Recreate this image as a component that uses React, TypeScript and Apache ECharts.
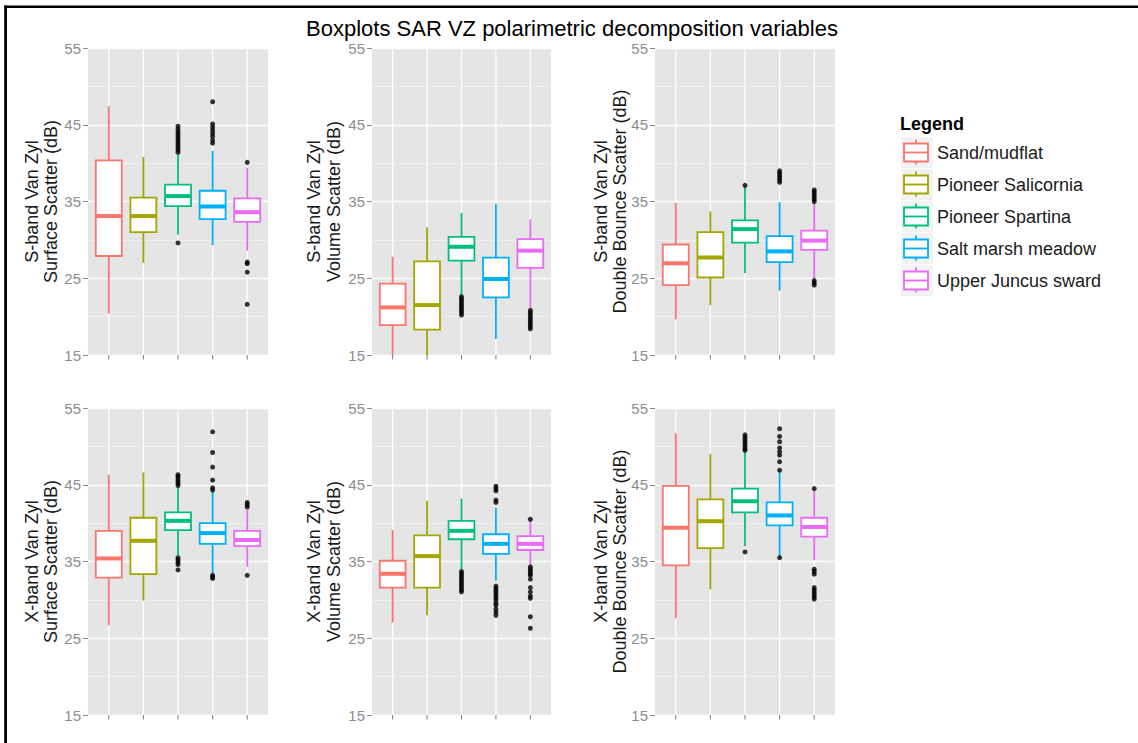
import React, { useEffect, useRef } from "react";
import * as echarts from "echarts";

// Vegetation / surface classes and their colours
const groups = [
  "Sand/mudflat",
  "Pioneer Salicornia",
  "Pioneer Spartina",
  "Salt marsh meadow",
  "Upper Juncus sward",
];
const groupColors = ["#F8766D", "#A3A500", "#00BF7D", "#00B0F6", "#E76BF3"];

const yTicks = [15, 25, 35, 45, 55];
const chartTitle = "Boxplots SAR VZ polarimetric decomposition variables";

const panelTitles = [
  "S-band Van Zyl\nSurface Scatter (dB)",
  "S-band Van Zyl\nVolume Scatter (dB)",
  "S-band Van Zyl\nDouble Bounce Scatter (dB)",
  "X-band Van Zyl\nSurface Scatter (dB)",
  "X-band Van Zyl\nVolume Scatter (dB)",
  "X-band Van Zyl\nDouble Bounce Scatter (dB)",
];

// Box statistics per class: [lower whisker, Q1, median, Q3, upper whisker]
const sSurfaceStats = [
  [20.4, 27.9, 33.1, 40.35, 47.4],
  [27.0, 31.0, 33.1, 35.5, 40.8],
  [30.7, 34.4, 35.7, 37.2, 41.1],
  [29.3, 32.7, 34.35, 36.4, 41.6],
  [28.6, 32.35, 33.6, 35.4, 39.4],
];
const sSurfaceOutliers = [
  [],
  [],
  [41.4, 41.7, 42.0, 42.3, 42.6, 42.9, 43.2, 43.5, 43.8, 44.1, 44.4, 44.8, 29.6],
  [48.0, 45.1, 44.7, 44.3, 43.9, 43.5, 43.0, 42.6],
  [40.1, 27.1, 26.9, 25.8, 21.6],
];

const sVolumeStats = [
  [15.0, 18.9, 21.2, 24.3, 27.8],
  [15.0, 18.3, 21.5, 27.2, 31.65],
  [22.8, 27.3, 29.1, 30.4, 33.5],
  [17.1, 22.5, 24.9, 27.7, 34.7],
  [21.0, 26.35, 28.6, 30.1, 32.7],
];
const sVolumeOutliers = [
  [],
  [],
  [22.6, 22.3, 22.0, 21.7, 21.4, 21.1, 20.8, 20.5, 20.2],
  [],
  [20.8, 20.5, 20.2, 19.9, 19.6, 19.3, 19.0, 18.7, 18.4],
];

const sDoubleStats = [
  [19.65, 24.1, 26.95, 29.4, 34.8],
  [21.5, 25.1, 27.7, 31.0, 33.7],
  [25.7, 29.65, 31.4, 32.55, 37.0],
  [23.4, 27.1, 28.5, 30.5, 34.9],
  [24.9, 28.7, 29.9, 31.2, 34.8],
];
const sDoubleOutliers = [
  [],
  [],
  [37.1],
  [37.5, 37.8, 38.1, 38.4, 38.7, 39.0],
  [35.0, 35.3, 35.6, 35.9, 36.2, 36.5, 24.7, 24.4, 24.1],
];

const xSurfaceStats = [
  [26.7, 32.9, 35.4, 39.0, 46.3],
  [29.9, 33.35, 37.7, 40.7, 46.6],
  [35.8, 39.1, 40.3, 41.4, 44.7],
  [33.4, 37.3, 38.7, 40.0, 44.1],
  [34.3, 37.0, 37.8, 39.0, 41.7],
];
const xSurfaceOutliers = [
  [],
  [],
  [44.9, 45.2, 45.5, 45.8, 46.1, 46.3, 35.5, 35.2, 34.9, 34.6, 33.9],
  [51.9, 49.2, 47.3, 45.6, 44.6, 44.3, 33.2, 33.0, 32.8],
  [42.1, 42.4, 42.7, 33.2],
];

const xVolumeStats = [
  [27.05, 31.6, 33.4, 35.1, 39.1],
  [28.0, 31.6, 35.7, 38.4, 42.9],
  [34.0, 37.9, 39.0, 40.3, 43.2],
  [32.5, 36.0, 37.3, 38.55, 42.0],
  [34.5, 36.5, 37.3, 38.3, 40.4],
];
const xVolumeOutliers = [
  [],
  [],
  [33.7, 33.4, 33.1, 32.8, 32.5, 32.2, 31.9, 31.6, 31.3, 31.05],
  [44.8, 44.5, 44.2, 43.0, 42.7, 31.8, 31.5, 31.2, 30.9, 30.6, 30.3, 30.0, 29.6, 29.3, 28.8, 28.4, 28.0],
  [40.5, 34.3, 34.0, 33.7, 33.4, 33.2, 32.7, 31.6, 31.05, 30.5, 30.2, 27.8, 26.3],
];

const xDoubleStats = [
  [27.6, 34.5, 39.4, 44.85, 51.7],
  [31.35, 36.75, 40.25, 43.1, 49.0],
  [37.0, 41.4, 42.85, 44.5, 49.3],
  [35.5, 39.7, 41.0, 42.7, 46.8],
  [35.2, 38.25, 39.5, 40.7, 44.3],
];
const xDoubleOutliers = [
  [],
  [],
  [51.5, 51.2, 50.9, 50.6, 50.3, 50.0, 49.7, 49.5, 36.25],
  [52.3, 51.3, 50.6, 49.8, 49.3, 48.85, 48.0, 46.9, 35.5],
  [44.5, 34.0, 33.7, 33.35, 31.6, 31.3, 31.0, 30.7, 30.4, 30.1],
];

const panelStats = [sSurfaceStats, sVolumeStats, sDoubleStats, xSurfaceStats, xVolumeStats, xDoubleStats];
const panelOutliers = [sSurfaceOutliers, sVolumeOutliers, sDoubleOutliers, xSurfaceOutliers, xVolumeOutliers, xDoubleOutliers];

const FONT = "'Liberation Sans', Arial, Helvetica, sans-serif";

export default function App() {
  const ref = useRef<HTMLDivElement>(null);

  useEffect(() => {
    if (!ref.current) return;
    const chart = echarts.init(ref.current, undefined, { renderer: "svg" });

    const colLeft = [88, 372, 655];
    const colWidth = [180, 179, 180];
    const rowTop = [48, 408];
    const panelHeight = 307;
    const titleCenterX = [41.5, 324, 610.5];

    const yMin = yTicks[0];
    const yMax = yTicks[yTicks.length - 1];
    const cats = groups.map((_, i) => i + 1);

    const grids: any[] = [];
    const xAxes: any[] = [];
    const yAxes: any[] = [];
    const series: any[] = [];
    const graphics: any[] = [];

    panelStats.forEach((stats, p) => {
      const col = p % 3;
      const row = Math.floor(p / 3);
      grids.push({
        left: colLeft[col],
        top: rowTop[row],
        width: colWidth[col],
        height: panelHeight,
        show: true,
        backgroundColor: "#E5E5E5",
        borderWidth: 0,
        containLabel: false,
      });
      xAxes.push({
        type: "value",
        gridIndex: p,
        min: 0.4,
        max: 5.6,
        axisLine: { show: false },
        axisTick: { show: false },
        axisLabel: { show: false },
        splitLine: { show: false },
      });
      yAxes.push({
        type: "value",
        gridIndex: p,
        min: yMin,
        max: yMax,
        interval: 10,
        axisLine: { show: false },
        axisTick: { show: true, length: 5, lineStyle: { color: "#8a8a8a", width: 1 } },
        axisLabel: { color: "#8c8c8c", fontSize: 15, margin: 7, fontFamily: FONT },
        splitLine: { show: true, lineStyle: { color: "#FFFFFF", width: 1.3 } },
        minorTick: { show: false, splitNumber: 2 },
        minorSplitLine: { show: true, lineStyle: { color: "#F2F2F2", width: 0.8 } },
      });

      // vertical major grid lines at each class and the small ticks under the panel
      series.push({
        type: "custom",
        xAxisIndex: p,
        yAxisIndex: p,
        z: 1,
        silent: true,
        clip: false,
        data: cats.map((c) => [c, yMin]),
        renderItem: (_params: any, api: any) => {
          const x = api.value(0);
          const top = api.coord([x, yMax]);
          const bottom = api.coord([x, yMin]);
          return {
            type: "group",
            children: [
              {
                type: "line",
                shape: { x1: top[0], y1: top[1], x2: bottom[0], y2: bottom[1] },
                style: { stroke: "#FFFFFF", lineWidth: 1.3 },
              },
              {
                type: "line",
                shape: { x1: bottom[0], y1: bottom[1], x2: bottom[0], y2: bottom[1] + 4.5 },
                style: { stroke: "#7a7a7a", lineWidth: 1 },
              },
            ],
          };
        },
      });

      // boxes and whiskers
      series.push({
        type: "custom",
        xAxisIndex: p,
        yAxisIndex: p,
        z: 2,
        clip: false,
        encode: { x: 0, y: [1, 2, 3, 4, 5] },
        data: stats.map((s, i) => [i + 1, ...s]),
        renderItem: (_params: any, api: any) => {
          const x = api.value(0);
          const lo = api.coord([x, api.value(1)]);
          const q1 = api.coord([x, api.value(2)]);
          const md = api.coord([x, api.value(3)]);
          const q3 = api.coord([x, api.value(4)]);
          const hi = api.coord([x, api.value(5)]);
          const half = api.size([0.75, 0])[0] / 2;
          const cx = md[0];
          const color = groupColors[x - 1];
          return {
            type: "group",
            children: [
              {
                type: "line",
                shape: { x1: cx, y1: hi[1], x2: cx, y2: q3[1] },
                style: { stroke: color, lineWidth: 1.8 },
              },
              {
                type: "line",
                shape: { x1: cx, y1: q1[1], x2: cx, y2: lo[1] },
                style: { stroke: color, lineWidth: 1.8 },
              },
              {
                type: "rect",
                shape: { x: cx - half, y: q3[1], width: half * 2, height: q1[1] - q3[1] },
                style: { fill: "#FFFFFF", stroke: color, lineWidth: 1.8 },
              },
              {
                type: "line",
                shape: { x1: cx - half, y1: md[1], x2: cx + half, y2: md[1] },
                style: { stroke: color, lineWidth: 4 },
              },
            ],
          };
        },
      });

      // outlying points
      const pts: number[][] = [];
      panelOutliers[p].forEach((vals, i) => vals.forEach((v) => pts.push([i + 1, v])));
      series.push({
        type: "scatter",
        xAxisIndex: p,
        yAxisIndex: p,
        z: 3,
        symbol: "circle",
        symbolSize: 5,
        itemStyle: { color: "#000000" },
        silent: true,
        data: pts,
      });

      // y-axis title of the panel
      graphics.push({
        type: "text",
        x: titleCenterX[col],
        y: rowTop[row] + panelHeight / 2,
        rotation: Math.PI / 2,
        style: {
          text: panelTitles[p],
          fill: "#1a1a1a",
          fontSize: 18,
          fontFamily: FONT,
          lineHeight: 19.5,
          align: "center",
          verticalAlign: "middle",
        },
      });
    });

    // main title
    graphics.push({
      type: "text",
      x: 572,
      y: 28,
      style: {
        text: chartTitle,
        fill: "#000000",
        fontSize: 22,
        fontFamily: FONT,
        align: "center",
        verticalAlign: "middle",
      },
    });

    // legend
    graphics.push({
      type: "text",
      x: 900,
      y: 124,
      style: {
        text: "Legend",
        fill: "#000000",
        fontSize: 18,
        fontWeight: "bold",
        fontFamily: FONT,
        align: "left",
        verticalAlign: "middle",
      },
    });
    groups.forEach((name, i) => {
      const cy = 152.5 + i * 32;
      const color = groupColors[i];
      graphics.push({
        type: "rect",
        shape: { x: 901, y: cy - 15.5, width: 32, height: 31 },
        style: { fill: "#F2F2F2" },
      });
      graphics.push({
        type: "line",
        shape: { x1: 916, y1: cy - 13, x2: 916, y2: cy + 12 },
        style: { stroke: color, lineWidth: 1.8 },
      });
      graphics.push({
        type: "rect",
        shape: { x: 904, y: cy - 9, width: 24, height: 18 },
        style: { fill: "#FFFFFF", stroke: color, lineWidth: 1.8 },
      });
      graphics.push({
        type: "line",
        shape: { x1: 904, y1: cy, x2: 928, y2: cy },
        style: { stroke: color, lineWidth: 1.8 },
      });
      graphics.push({
        type: "text",
        x: 937,
        y: cy,
        style: {
          text: name,
          fill: "#1a1a1a",
          fontSize: 18,
          fontFamily: FONT,
          align: "left",
          verticalAlign: "middle",
        },
      });
    });

    // frame lines along the top and left edges
    graphics.push({
      type: "line",
      shape: { x1: 4.3, y1: 6.8, x2: 1138, y2: 6.8 },
      style: { stroke: "#000000", lineWidth: 2.5 },
    });
    graphics.push({
      type: "line",
      shape: { x1: 5.6, y1: 5.6, x2: 5.6, y2: 743 },
      style: { stroke: "#000000", lineWidth: 2.8 },
    });

    chart.setOption({
      animation: false,
      backgroundColor: "#FFFFFF",
      textStyle: { fontFamily: FONT },
      grid: grids,
      xAxis: xAxes,
      yAxis: yAxes,
      series,
      graphic: graphics,
    });

    return () => chart.dispose();
  }, []);

  return (
    <div
      ref={ref}
      style={{ position: "fixed", left: 0, top: 0, width: 1138, height: 743, background: "#fff" }}
    />
  );
}
